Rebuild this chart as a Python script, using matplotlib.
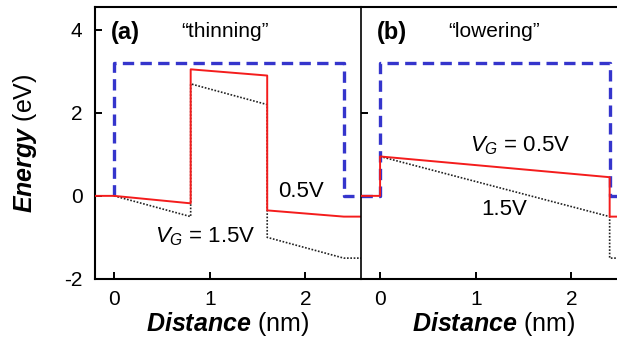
"""Band diagrams: barrier "thinning" vs "lowering" under gate bias."""

import matplotlib

matplotlib.use("Agg")
import matplotlib.pyplot as plt

plt.rcParams["font.family"] = ["Liberation Sans", "DejaVu Sans"]
plt.rcParams["axes.unicode_minus"] = False
plt.rcParams["mathtext.fontset"] = "custom"
plt.rcParams["mathtext.rm"] = "Liberation Sans"
plt.rcParams["mathtext.it"] = "Liberation Sans:italic"
plt.rcParams["mathtext.bf"] = "Liberation Sans:bold"
plt.rcParams["mathtext.bfit"] = "Liberation Sans:italic:bold"

# panel (a): "thinning"
dist_a_05 = [-0.2, 0.0, 0.8, 0.8, 1.6, 1.6, 2.4, 2.6]
energy_a_05 = [0.0, 0.0, -0.18, 3.05, 2.9, -0.35, -0.5, -0.5]
dist_a_15 = [0.0, 0.8, 0.8, 1.6, 1.6, 2.4, 2.6]
energy_a_15 = [0.0, -0.5, 2.7, 2.2, -1.0, -1.5, -1.5]
dist_a_flat = [0.0, 0.0, 2.4, 2.4, 2.6]
energy_a_flat = [0.0, 3.2, 3.2, 0.0, 0.0]

# panel (b): "lowering"
dist_b_05 = [-0.2, 0.0, 0.0, 2.4, 2.4, 2.6]
energy_b_05 = [0.0, 0.0, 0.95, 0.45, -0.5, -0.5]
dist_b_15 = [0.0, 2.4, 2.4, 2.6]
energy_b_15 = [0.95, -0.5, -1.5, -1.5]
dist_b_flat = [-0.2, 0.0, 0.0, 2.4, 2.4, 2.6]
energy_b_flat = [0.0, 0.0, 3.2, 3.2, 0.0, 0.0]

x_ticks = [0, 1, 2]
y_ticks = [-2, 0, 2, 4]

RED = "#f41c1c"
BLUE = "#3535cc"
TXT = 16


def draw_panel(ax, flat, v05, v15):
    ax.plot(*flat, color=BLUE, lw=2.4, dashes=(3.4, 1.9), zorder=2)
    ax.plot(*v15, color="#222222", lw=1.2, ls=(0, (1, 1.0)), zorder=3)
    ax.plot(*v05, color=RED, lw=1.4, zorder=4)
    ax.set_xlim(-0.2, 2.58)
    ax.set_ylim(-2, 4.55)
    ax.set_xticks(x_ticks)
    ax.tick_params(direction="in", length=5, width=1.4, labelsize=15)
    ax.tick_params(axis="x", pad=8)
    ax.tick_params(axis="y", pad=9)
    for side in ax.spines.values():
        side.set_linewidth(1.5)
    ax.set_xlabel(r"$\mathbfit{Distance}$ (nm)", fontsize=18, labelpad=1)


fig = plt.figure(figsize=(6.17, 3.38), dpi=100)
ax_a = fig.add_axes([0.154, 0.175, 0.431, 0.804])
ax_b = fig.add_axes([0.585, 0.175, 0.431, 0.804])

draw_panel(ax_a, (dist_a_flat, energy_a_flat), (dist_a_05, energy_a_05), (dist_a_15, energy_a_15))
draw_panel(ax_b, (dist_b_flat, energy_b_flat), (dist_b_05, energy_b_05), (dist_b_15, energy_b_15))

ax_a.set_yticks(y_ticks)
ax_a.set_ylabel(r"$\mathbfit{Energy}$ (eV)", fontsize=18, labelpad=18)
ax_a.spines["right"].set_visible(False)
ax_b.set_yticks([2])
ax_b.set_yticklabels([])
ax_b.spines["left"].set_linewidth(1.2)

ax_a.text(-0.03, 3.93, "(a)", fontsize=17, fontweight="bold", va="center")
ax_a.text(1.16, 3.95, "\u201cthinning\u201d", fontsize=15, ha="center", va="center")
ax_a.text(1.71, 0.1, "0.5V", fontsize=TXT, va="center")
ax_a.text(0.95, -0.99, r"$V_G$ = 1.5V", fontsize=TXT, ha="center", va="center")

ax_b.text(-0.03, 3.93, "(b)", fontsize=17, fontweight="bold", va="center")
ax_b.text(1.19, 3.95, "\u201clowering\u201d", fontsize=15, ha="center", va="center")
ax_b.text(1.47, 1.2, r"$V_G$ = 0.5V", fontsize=TXT, ha="center", va="center")
ax_b.text(1.30, -0.34, "1.5V", fontsize=TXT, ha="center", va="center")

fig.savefig("out.png", dpi=100)
